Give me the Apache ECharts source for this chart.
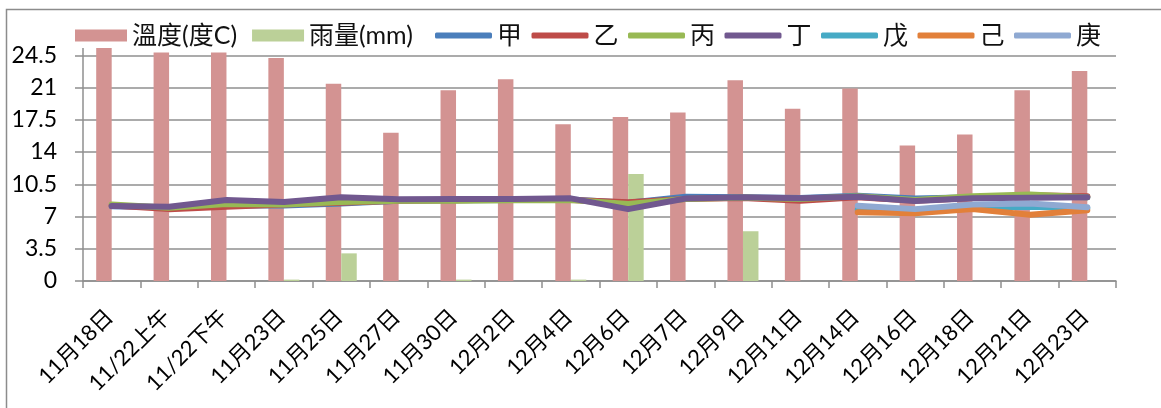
<!DOCTYPE html>
<html>
<head>
<meta charset="utf-8">
<script src="https://cdn.jsdelivr.net/npm/echarts@6/dist/echarts.min.js"></script>
<style>
  html, body { margin: 0; padding: 0; background: #fff; }
  #chart { width: 1161px; height: 408px; }
</style>
</head>
<body>
<div id="chart"></div>
<script>
// Observation dates
const categories = ['11月18日', '11/22上午', '11/22下午', '11月23日', '11月25日', '11月27日',
  '11月30日', '12月2日', '12月4日', '12月6日', '12月7日', '12月9日', '12月11日',
  '12月14日', '12月16日', '12月18日', '12月21日', '12月23日'];

// Temperature (°C) and rainfall (mm)
const temperature = [25.9, 24.8, 24.8, 24.2, 21.4, 16.1, 20.7, 21.9, 17.0, 17.8, 18.3, 21.8, 18.7, 20.9, 14.7, 15.9, 20.7, 22.8];
const rainfall = [0, 0, 0, 0.15, 3.0, 0, 0.15, 0, 0.15, 11.6, 0, 5.4, 0, 0, 0, 0, 0, 0];

// Measurement series 甲 … 庚
const jia  = [8.1, 8.0, 8.2, 8.2, 8.4, 8.7, 8.75, 8.8, 8.85, 8.5, 9.15, 9.1, 9.0, 9.25, 8.95, 9.1, 9.2, 9.1];
const yi   = [8.2, 7.8, 8.05, 8.3, 8.5, 8.7, 8.75, 8.85, 8.8, 8.55, 8.9, 9.0, 8.7, 9.1, 8.7, 9.0, 9.3, 9.2];
const bing = [8.3, 7.95, 8.35, 8.3, 8.57, 8.7, 8.7, 8.75, 8.8, 8.35, 8.9, 9.05, 8.9, 9.2, 8.8, 9.2, 9.4, 9.1];
const ding = [8.13, 8.06, 8.8, 8.57, 9.08, 8.86, 8.9, 8.9, 8.97, 7.8, 8.95, 9.1, 8.97, 9.15, 8.68, 8.97, 9.04, 9.08];
const wu   = [null, null, null, null, null, null, null, null, null, null, null, null, null, 7.75, 7.6, 8.0, 8.06, 7.9];
const ji   = [null, null, null, null, null, null, null, null, null, null, null, null, null, 7.45, 7.35, 7.8, 7.2, 7.67];
const geng = [null, null, null, null, null, null, null, null, null, null, null, null, null, 8.17, 7.8, 8.3, 8.4, 8.0];

// Value axis ticks
const yMin = 0, yMax = 28, yStep = 3.5;

const lineNames = ['甲', '乙', '丙', '丁', '戊', '己', '庚'];
const lineData = [jia, yi, bing, ding, wu, ji, geng];
const lineColors = ['#4A7EBB', '#BE4B48', '#98B954', '#71588F', '#46AAC5', '#E2803A', '#8FA9D2'];

const FONT = 'Lato, "Noto Sans CJK TC", sans-serif';
const GRID_GRAY = '#8f8f8f';

const chart = echarts.init(document.getElementById('chart'), null, { renderer: 'canvas' });

const legendText = { fontSize: 25, fontFamily: FONT, color: '#111', lineHeight: 20 };

const series = [
  {
    name: '溫度(度C)', type: 'bar', data: temperature,
    itemStyle: { color: '#D39392' },
    barGap: '0%', barCategoryGap: '46%'
  },
  {
    name: '雨量(mm)', type: 'bar', data: rainfall,
    itemStyle: { color: '#BBD098' }
  }
];
lineNames.forEach((n, i) => {
  series.push({
    name: n, type: 'line', data: lineData[i],
    symbol: 'none', smooth: false,
    itemStyle: { color: lineColors[i] },
    lineStyle: { color: lineColors[i], width: 6, cap: 'round', join: 'round' },
    z: 3
  });
});

chart.setOption({
  animation: false,
  backgroundColor: '#fff',
  graphic: [{
    type: 'rect', z: 0, silent: true,
    shape: { x: 6.5, y: 9.5, width: 1300, height: 600 },
    style: { fill: 'none', stroke: '#8c8c8c', lineWidth: 1.5 }
  }],
  grid: { left: 83, right: 45, top: 23, bottom: 127 },
  legend: [
    {
      data: ['溫度(度C)', '雨量(mm)'],
      left: 69, top: 13, padding: [10, 6, 0, 6],
      itemWidth: 52, itemHeight: 12, itemGap: 15,
      icon: 'rect',
      backgroundColor: '#fff',
      textStyle: legendText
    },
    {
      data: lineNames,
      left: 429, top: 13, padding: [10, 6, 0, 6],
      itemWidth: 57, itemHeight: 6, itemGap: 9.5,
      icon: 'roundRect',
      backgroundColor: '#fff',
      textStyle: legendText
    }
  ],
  xAxis: {
    type: 'category',
    data: categories,
    boundaryGap: true,
    axisLine: { lineStyle: { color: GRID_GRAY, width: 1.5 } },
    axisTick: { show: true, length: 7, lineStyle: { color: GRID_GRAY, width: 1.5 } },
    axisLabel: {
      rotate: 45, interval: 0, margin: 30,
      fontSize: 22, fontFamily: FONT, color: '#000',
      padding: [0, 3, 0, 0]
    },
    splitLine: { show: false }
  },
  yAxis: {
    type: 'value',
    min: yMin, max: yMax, interval: yStep,
    axisLine: { show: true, lineStyle: { color: GRID_GRAY, width: 1.5 } },
    axisTick: { show: true, length: 8, lineStyle: { color: GRID_GRAY, width: 1.5 } },
    axisLabel: {
      margin: 26, showMaxLabel: false,
      fontSize: 23, fontFamily: FONT, color: '#000'
    },
    splitLine: { show: true, showMaxLine: false, lineStyle: { color: GRID_GRAY, width: 1.5 } }
  },
  series: series
});
</script>
</body>
</html>
